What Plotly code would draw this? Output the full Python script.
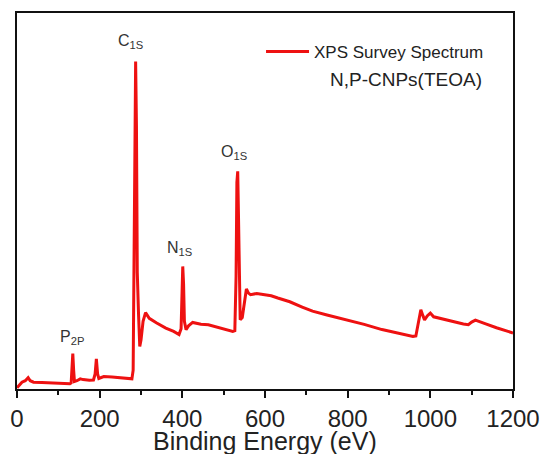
import plotly.graph_objects as go

# Binding energy (eV) and relative intensity (fraction of plot height)
energy = [0, 5, 12, 20, 27, 32, 40, 60, 80, 100, 120, 128, 131, 133, 135, 137, 139, 145, 153, 160,
          175, 185, 189, 192, 195, 198, 210, 230, 250, 270, 278, 281, 283, 285, 287, 289, 291, 294,
          297, 300, 305, 311, 315, 320, 337, 360, 379, 392, 397, 399, 401, 403, 405, 409, 415, 425,
          445, 463, 480, 500, 522, 527, 530, 532, 534, 536, 538, 540, 545, 550, 555, 560, 565, 580,
          597, 615, 631, 660, 690, 715, 750, 799, 840, 883, 920, 958, 965, 970, 977, 982, 986, 993,
          1000, 1008, 1030, 1050, 1080, 1092, 1100, 1109, 1120, 1134, 1160, 1180, 1200]
intensity = [0.003, 0.010, 0.018, 0.022, 0.030, 0.022, 0.018, 0.017, 0.016, 0.016, 0.015, 0.014, 0.016,
             0.050, 0.094, 0.050, 0.020, 0.022, 0.027, 0.025, 0.023, 0.024, 0.040, 0.080, 0.040, 0.028,
             0.033, 0.032, 0.030, 0.028, 0.027, 0.050, 0.400, 0.750, 0.871, 0.700, 0.310, 0.200, 0.113,
             0.130, 0.180, 0.203, 0.195, 0.188, 0.176, 0.162, 0.153, 0.145, 0.160, 0.250, 0.326, 0.280,
             0.180, 0.158, 0.168, 0.177, 0.172, 0.171, 0.166, 0.160, 0.153, 0.155, 0.300, 0.550, 0.579,
             0.450, 0.220, 0.184, 0.190, 0.230, 0.266, 0.255, 0.251, 0.254, 0.252, 0.248, 0.242, 0.232,
             0.218, 0.207, 0.197, 0.184, 0.172, 0.158, 0.150, 0.140, 0.141, 0.170, 0.211, 0.195, 0.184,
             0.195, 0.202, 0.192, 0.186, 0.180, 0.173, 0.171, 0.178, 0.183, 0.178, 0.173, 0.163, 0.156,
             0.149]

peak_labels = ["C<sub>1S</sub>", "O<sub>1S</sub>", "N<sub>1S</sub>", "P<sub>2P</sub>"]
peak_x = [275, 526, 394, 133]
peak_y = [0.925, 0.63, 0.375, 0.138]

x_ticks = [0, 200, 400, 600, 800, 1000, 1200]

FONT = "Liberation Sans, Arial, sans-serif"

fig = go.Figure()
fig.add_trace(go.Scatter(
    x=energy, y=intensity, mode="lines", name="XPS Survey Spectrum",
    line=dict(color="#ee1111", width=3),
))

for t, x, y in zip(peak_labels, peak_x, peak_y):
    fig.add_annotation(x=x, y=y, text=t, showarrow=False, xref="x", yref="y",
                       font=dict(family=FONT, size=16, color="#333333"))

fig.add_annotation(x=0.627, y=0.823, xref="paper", yref="paper", text="N,P-CNPs(TEOA)",
                   showarrow=False, xanchor="left", yanchor="middle",
                   font=dict(family=FONT, size=19, color="#222222"))

# x-axis title drawn as a paper annotation
fig.add_annotation(x=0.5, y=-0.138, xref="paper", yref="paper", text="Binding Energy (eV)",
                   showarrow=False, xanchor="center", yanchor="middle",
                   font=dict(family=FONT, size=25, color="#222222"))

fig.update_layout(
    width=544, height=454,
    margin=dict(l=17, r=31, t=13, b=65, autoexpand=False),
    paper_bgcolor="white", plot_bgcolor="white",
    showlegend=True,
    legend=dict(x=0.492, y=0.944, xanchor="left", yanchor="top",
                bgcolor="rgba(0,0,0,0)", font=dict(family=FONT, size=17, color="#222222"),
                itemwidth=43),
    xaxis=dict(range=[0, 1200], tickvals=x_ticks, ticks="outside", ticklen=7, tickwidth=2,
               tickcolor="#111111", showline=True, linecolor="#111111", linewidth=2, mirror=True,
               showgrid=False, zeroline=False,
               minor=dict(dtick=100, ticks="outside", ticklen=4, tickwidth=2, tickcolor="#111111"),
               tickfont=dict(family=FONT, size=24, color="#222222")),
    yaxis=dict(range=[0, 1], showticklabels=False, ticks="", showline=True, linecolor="#111111",
               linewidth=2, mirror=True, showgrid=False, zeroline=False),
)

fig.write_html("out.html")
